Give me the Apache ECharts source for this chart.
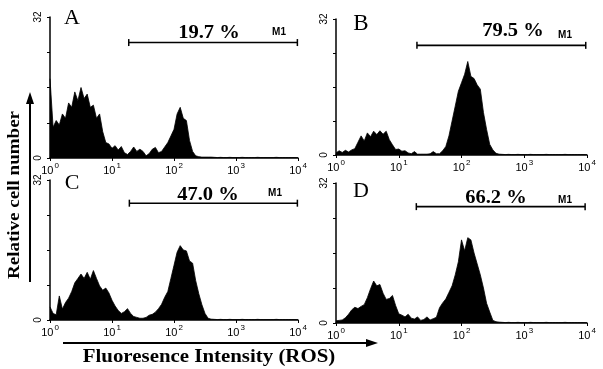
<!DOCTYPE html>
<html><head><meta charset="utf-8">
<script src="https://cdn.jsdelivr.net/npm/echarts/dist/echarts.min.js"></script>
<style>html,body{margin:0;padding:0;background:#fff}#c{width:603px;height:369px}</style>
</head><body><div id="c"></div>
<script>
// channel positions in decades (log10 of fluorescence intensity)
const logChannels = [0,0.05,0.1,0.15,0.2,0.25,0.3,0.35,0.4,0.45,0.5,0.55,0.6,0.65,0.7,0.75,0.8,0.85,0.9,0.95,
1,1.05,1.1,1.15,1.2,1.25,1.3,1.35,1.4,1.45,1.5,1.55,1.6,1.65,1.7,1.75,1.8,1.85,1.9,1.95,
2,2.05,2.1,2.15,2.2,2.25,2.3,2.35,2.4,2.45,2.5,2.55,2.6,2.65,2.7,2.75,2.8,2.85,2.9,2.95,
3,3.05,3.1,3.15,3.2,3.25,3.3,3.35,3.4,3.45,3.5,3.55,3.6,3.65,3.7,3.75,3.8,3.85,3.9,3.95,4];

const countsA = [18,7,8.5,7.5,10,9,12.5,11.5,15,13,16,13.5,14.5,11.5,12,9,10,6,3.5,3.2,
2.2,2.8,1.8,2.6,1.2,0.8,1.5,2.5,1.5,2,1.5,0.5,1,2,2.4,1.2,1.5,2.5,3.5,5,
6.5,10,11.5,9,8.5,4,1.5,0.5,0.3,0.2,0.2,0.2,
0.2,0.15,0.1,0.15,0.1,0.1,0.15,0.1,0.1,0.1,0.15,0.1,0.1,0.1,0.1,0.15,0.1,0.1,0.1,0.1,0.1,0.15,0.1,0.1,0.1,0.1,0.1,0.1,0.1];
const countsB = [0.5,1.0,0.6,1.1,0.7,1.2,1.5,3.0,4.5,3.3,5.2,4.3,5.6,4.8,5.7,4.9,5.6,3.6,2.4,1.3,
1.4,0.9,1.0,0.5,0.3,0.8,0.2,0.2,0.2,0.2,0.3,0.8,0.3,0.3,1.0,2.0,4.5,8,11.5,15,
17,19,22,18.5,18,16.5,15.5,10,6,2.5,1.2,0.4,
0.2,0.15,0.1,0.15,0.1,0.1,0.15,0.1,0.1,0.1,0.15,0.1,0.1,0.1,0.1,0.15,0.1,0.1,0.1,0.1,0.1,0.15,0.1,0.1,0.1,0.1,0.1,0.1,0.1];
const countsC = [3,1.5,1.2,5.5,2.5,4,5,6.5,8.5,9.5,10.5,9.5,10.9,9.3,11.3,9.5,7.8,6.8,7.3,6.2,
4.5,3.2,2.2,1.5,1.9,2.6,1.5,0.8,0.6,0.4,0.4,0.6,1.1,1.3,1.8,2.6,3.6,5.2,6.5,9.5,
12.5,15.5,17,16,15.8,13.5,13,9,6,3.5,1.5,0.4,
0.2,0.15,0.1,0.15,0.1,0.1,0.15,0.1,0.1,0.1,0.15,0.1,0.1,0.1,0.1,0.15,0.1,0.1,0.1,0.1,0.1,0.15,0.1,0.1,0.1,0.1,0.1,0.1,0.1];
const countsD = [0.5,0.6,0.7,1.2,2.0,3.0,3.6,3.3,3.8,4.2,5.8,7.8,9.6,8.5,8.8,6.8,5.4,5.6,6.3,4,
2.1,1.8,1.4,2.0,1.1,0.9,1.4,0.6,0.8,1.4,0.7,1.0,1.3,3.5,4.6,5.5,7,8.5,11,14,
19,16.5,19.5,19,16,13.5,11,8,4.5,2.5,0.6,0.3,
0.2,0.15,0.1,0.15,0.1,0.1,0.15,0.1,0.1,0.1,0.15,0.1,0.1,0.1,0.1,0.15,0.1,0.1,0.1,0.1,0.1,0.15,0.1,0.1,0.1,0.1,0.1,0.1,0.1];

// M1 gates: [start decade, end decade, drawn level]
const gateA = [1.27, 3.99, 26.2];
const gateB = [1.29, 3.98, 25.8];
const gateC = [1.28, 3.99, 26.7];
const gateD = [1.28, 3.97, 26.6];

const percentLabels = ['19.7 %', '79.5 %', '47.0 %', '66.2 %'];
const panelLetters = ['A', 'B', 'C', 'D'];
const gateName = 'M1';
const decadeExponents = ['0', '1', '2', '3', '4'];
const yAxisMax = 32;
const yTitle = 'Relative cell number';
const xTitle = 'Fluoresence Intensity (ROS)';

const counts = [countsA, countsB, countsC, countsD];
const gates = [gateA, gateB, gateC, gateD];

const grids = [
  {left: 50, top: 17, width: 248, height: 141},
  {left: 336, top: 19, width: 251, height: 136},
  {left: 50, top: 180, width: 248, height: 140},
  {left: 336, top: 183, width: 251, height: 140}
];

const chart = echarts.init(document.getElementById('c'), null, {renderer: 'canvas'});
const black = '#000';

const xAxes = grids.map((g, i) => ({
  type: 'value', gridIndex: i, min: 0, max: 4, interval: 1,
  axisLine: {show: true, onZero: false, lineStyle: {color: black, width: 1.5}},
  axisTick: {show: true, length: 3, lineStyle: {color: black, width: 1}},
  splitLine: {show: false},
  axisLabel: {
    margin: 4, showMinLabel: true, showMaxLabel: true,
    formatter: v => '{b|10}{s|' + decadeExponents[Math.round(v)] + '}',
    rich: {
      b: {fontSize: 11, fontFamily: 'Liberation Sans', color: black, verticalAlign: 'bottom'},
      s: {fontSize: 8, fontFamily: 'Liberation Sans', color: black, verticalAlign: 'top', padding: [0, 0, 6, 1]}
    }
  }
}));

const yAxes = grids.map((g, i) => ({
  type: 'value', gridIndex: i, min: 0, max: yAxisMax, interval: 8,
  axisLine: {show: true, lineStyle: {color: black, width: 1.5}},
  axisTick: {show: true, length: 3, lineStyle: {color: black, width: 1}},
  splitLine: {show: false},
  axisLabel: {
    rotate: 90, margin: 7, fontSize: 10, fontFamily: 'Liberation Sans', color: black,
    formatter: v => (v === 0 || v === yAxisMax) ? String(v) : ''
  }
}));

const series = [];
counts.forEach((arr, i) => {
  series.push({
    type: 'line', xAxisIndex: i, yAxisIndex: i,
    data: logChannels.map((x, k) => [x, arr[k]]),
    symbol: 'none', silent: true,
    lineStyle: {color: black, width: 0.8},
    areaStyle: {color: black, opacity: 1}
  });
  const gt = gates[i];
  series.push({
    type: 'line', xAxisIndex: i, yAxisIndex: i,
    data: [[gt[0], gt[2]], [gt[1], gt[2]]],
    symbol: 'rect', symbolSize: [1.5, 7], silent: true,
    itemStyle: {color: black},
    lineStyle: {color: black, width: 1.6}
  });
});

const serif = '"Liberation Serif", "Times New Roman", serif';
const sans = '"Liberation Sans", Arial, sans-serif';
const letterPos = [[72, 18, 22], [361, 24, 23], [72, 183, 22], [361, 191, 22]];
const pctPos = [[209, 33], [513, 31], [208, 195], [496, 198]];
const m1Pos = [[279, 32], [565, 35], [275, 193], [565, 200]];

const graphics = [];
panelLetters.forEach((t, i) => {
  graphics.push({type: 'text', x: letterPos[i][0], y: letterPos[i][1],
    style: {text: t, font: letterPos[i][2] + 'px ' + serif, fill: black, textAlign: 'center', textVerticalAlign: 'middle'}});
  graphics.push({type: 'text', x: pctPos[i][0], y: pctPos[i][1], scaleX: 1.08,
    style: {text: percentLabels[i], font: 'bold 19px ' + serif, fill: black, textAlign: 'center', textVerticalAlign: 'middle'}});
  graphics.push({type: 'text', x: m1Pos[i][0], y: m1Pos[i][1],
    style: {text: gateName, font: 'bold 10px ' + sans, fill: black, textAlign: 'center', textVerticalAlign: 'middle'}});
});
graphics.push({type: 'text', x: 15, y: 195, rotation: Math.PI / 2, scaleX: 1.12,
  style: {text: yTitle, font: 'bold 17px ' + serif, fill: black, textAlign: 'center', textVerticalAlign: 'middle'}});
graphics.push({type: 'text', x: 209, y: 357, scaleX: 1.16,
  style: {text: xTitle, font: 'bold 18px ' + serif, fill: black, textAlign: 'center', textVerticalAlign: 'middle'}});
// arrows
graphics.push({type: 'line', shape: {x1: 30, y1: 282, x2: 30, y2: 102}, style: {stroke: black, lineWidth: 2}});
graphics.push({type: 'polygon', shape: {points: [[26, 104], [34, 104], [30, 92]]}, style: {fill: black}});
graphics.push({type: 'line', shape: {x1: 63, y1: 343, x2: 368, y2: 343}, style: {stroke: black, lineWidth: 2}});
graphics.push({type: 'polygon', shape: {points: [[366, 339], [366, 347], [378, 343]]}, style: {fill: black}});

chart.setOption({
  animation: false,
  backgroundColor: '#fff',
  grid: grids,
  xAxis: xAxes,
  yAxis: yAxes,
  series: series,
  graphic: graphics
});
</script>
</body></html>
